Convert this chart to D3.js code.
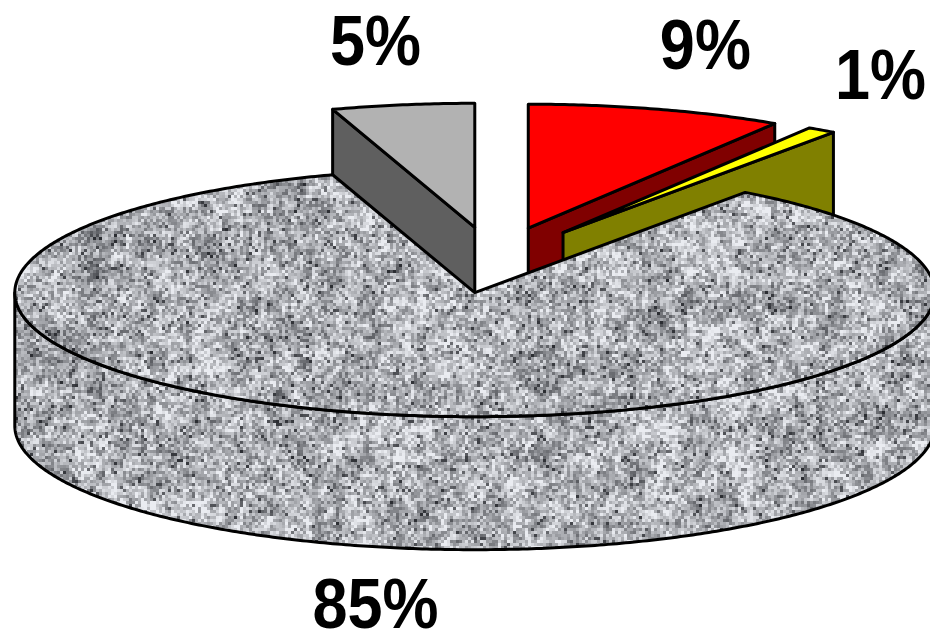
<!DOCTYPE html>
<html>
<head>
<meta charset="utf-8">
<script src="https://cdn.jsdelivr.net/npm/d3@7"></script>
<style>
  html, body { margin: 0; padding: 0; background: #ffffff; }
  svg { display: block; }
</style>
</head>
<body>
<div id="chart"></div>
<script>
// Slice data, clockwise from 12 o'clock
const categories = ["Red", "Yellow", "Stone", "Gray"];
const values = [9, 1, 85, 5];
const valueLabels = ["9%", "1%", "85%", "5%"];

// Styling per category
const topFill = { Red: "#FF0000", Yellow: "#FFFF00", Stone: "url(#granite)", Gray: "#B2B2B2" };
const sideFill = { Red: "#800000", Yellow: "#808000", Stone: "url(#granite)", Gray: "#5F5F5F" };

const W = 930, H = 644;
// 3D pie geometry (projected ellipse)
const cx = 494, cy = 260, rx = 460, ry = 124, depth = 133, explode = 0.267;

const svg = d3.select("#chart").append("svg")
  .attr("width", W).attr("height", H)
  .attr("viewBox", `0 0 ${W} ${H}`);

svg.append("rect").attr("width", W).attr("height", H).attr("fill", "#fff");

// Granite texture: grey speckle in 3px cells, from hashed value noise
function hash(i, j) {
  let h = (i * 374761393 + j * 668265263) | 0;
  h = Math.imul(h ^ (h >>> 13), 1274126177);
  h = h ^ (h >>> 16);
  return (h >>> 0) / 4294967295;
}
function smooth(x, y, s, k) {
  const i = Math.floor(x / s), j = Math.floor(y / s);
  const fx = x / s - i, fy = y / s - j;
  const ux = fx * fx * (3 - 2 * fx), uy = fy * fy * (3 - 2 * fy);
  const a = hash(i + k, j), b = hash(i + k + 1, j), c = hash(i + k, j + 1), e = hash(i + k + 1, j + 1);
  return a + (b - a) * ux + (c - a) * uy + (a - b - c + e) * ux * uy;
}
const cell = 3;
const canvas = document.createElement("canvas");
canvas.width = W; canvas.height = H;
const ctx = canvas.getContext("2d");
for (let j = 0; j < Math.ceil(H / cell); j++) {
  for (let i = 0; i < Math.ceil(W / cell); i++) {
    const n = hash(i, j);
    const m1 = smooth(i, j, 2.5, 7001) - 0.5;
    const m2 = smooth(i, j, 10, 9001) - 0.5;
    let v = 176 + (n - 0.5) * 105 + m1 * 80 + m2 * 45;
    if (n < 0.05) v -= 45;
    v = Math.max(45, Math.min(236, v));
    const r = Math.round(v - 2), g = Math.round(v), b = Math.round(v + 5);
    ctx.fillStyle = `rgb(${r},${g},${b})`;
    ctx.fillRect(i * cell, j * cell, cell, cell);
  }
}
const defs = svg.append("defs");
defs.append("pattern")
  .attr("id", "granite")
  .attr("patternUnits", "userSpaceOnUse")
  .attr("x", 0).attr("y", 0).attr("width", W).attr("height", H)
  .append("image")
  .attr("href", canvas.toDataURL("image/png"))
  .attr("width", W).attr("height", H)
  .style("image-rendering", "pixelated");

const pie = d3.pie().sort(null).value(d => d.value)
  .startAngle(0).endAngle(2 * Math.PI);

const arcs = pie(categories.map((c, i) => ({ name: c, value: values[i], label: valueLabels[i] })));

// Project an angle / radius fraction / height onto the screen
function P(a, r, z, o) {
  return [cx + o[0] + r * rx * Math.sin(a), cy + o[1] - r * ry * Math.cos(a) + z];
}
function arcPts(a0, a1, z, o) {
  const n = Math.max(2, Math.ceil(Math.abs(a1 - a0) / 0.01));
  return d3.range(n + 1).map(i => P(a0 + (a1 - a0) * i / n, 1, z, o));
}
const lineGen = d3.line();
const closedPath = pts => lineGen(pts) + "Z";

arcs.forEach(d => {
  d.mid = (d.startAngle + d.endAngle) / 2;
  d.off = [explode * rx * Math.sin(d.mid), -explode * ry * Math.cos(d.mid)];
});

// Paint from back to front
const order = arcs.slice().sort((a, b) => Math.cos(b.mid) - Math.cos(a.mid));

function face(g, pathD, fill) {
  g.append("path").attr("d", pathD)
    .attr("fill", fill)
    .attr("stroke", "#000")
    .attr("stroke-width", 3)
    .attr("stroke-linejoin", "round");
}

order.forEach(d => {
  const name = d.data.name;
  const g = svg.append("g").attr("class", "slice");
  const s = d.startAngle, e = d.endAngle, o = d.off;

  // Radial face at the start angle
  if (Math.sin(s) < -1e-6) {
    face(g, closedPath([P(s, 0, 0, o), P(s, 1, 0, o), P(s, 1, depth, o), P(s, 0, depth, o)]), sideFill[name]);
  }
  // Radial face at the end angle
  if (Math.sin(e) > 1e-6) {
    face(g, closedPath([P(e, 0, 0, o), P(e, 1, 0, o), P(e, 1, depth, o), P(e, 0, depth, o)]), sideFill[name]);
  }
  // Outer wall on the near half
  const a0 = Math.max(s, Math.PI / 2), a1 = Math.min(e, 3 * Math.PI / 2);
  if (a0 < a1) {
    face(g, closedPath([...arcPts(a0, a1, 0, o), ...arcPts(a1, a0, depth, o)]), sideFill[name]);
  }
  // Top face
  face(g, closedPath([P(0, 0, 0, o), ...arcPts(s, e, 0, o)]), topFill[name]);
});

// Value labels, kept inside the drawing area
const fontSize = 63, stretch = 1.12, kx = 1.38, ky = 1.55;
arcs.forEach(d => {
  const apex = P(0, 0, 0, d.off);
  let x = apex[0] + kx * rx * Math.sin(d.mid);
  let y = apex[1] - ky * ry * Math.cos(d.mid) + (Math.cos(d.mid) < 0 ? depth : 0);
  const t = svg.append("text")
    .attr("text-anchor", "middle")
    .attr("font-family", "'Liberation Sans', Arial, sans-serif")
    .attr("font-weight", "bold")
    .attr("font-size", fontSize)
    .attr("fill", "#000")
    .attr("y", 0.36 * fontSize)
    .text(d.data.label);
  const bb = t.node().getBBox();
  const hw = bb.width / 2;
  x = Math.max(hw + 4, Math.min(W - hw - 4, x));
  const top = bb.y * stretch, bottom = (bb.y + bb.height) * stretch;
  y = Math.max(1 - top, Math.min(H - 1 - bottom, y));
  t.attr("transform", `translate(${x},${y}) scale(1,${stretch})`);
});
</script>
</body>
</html>
